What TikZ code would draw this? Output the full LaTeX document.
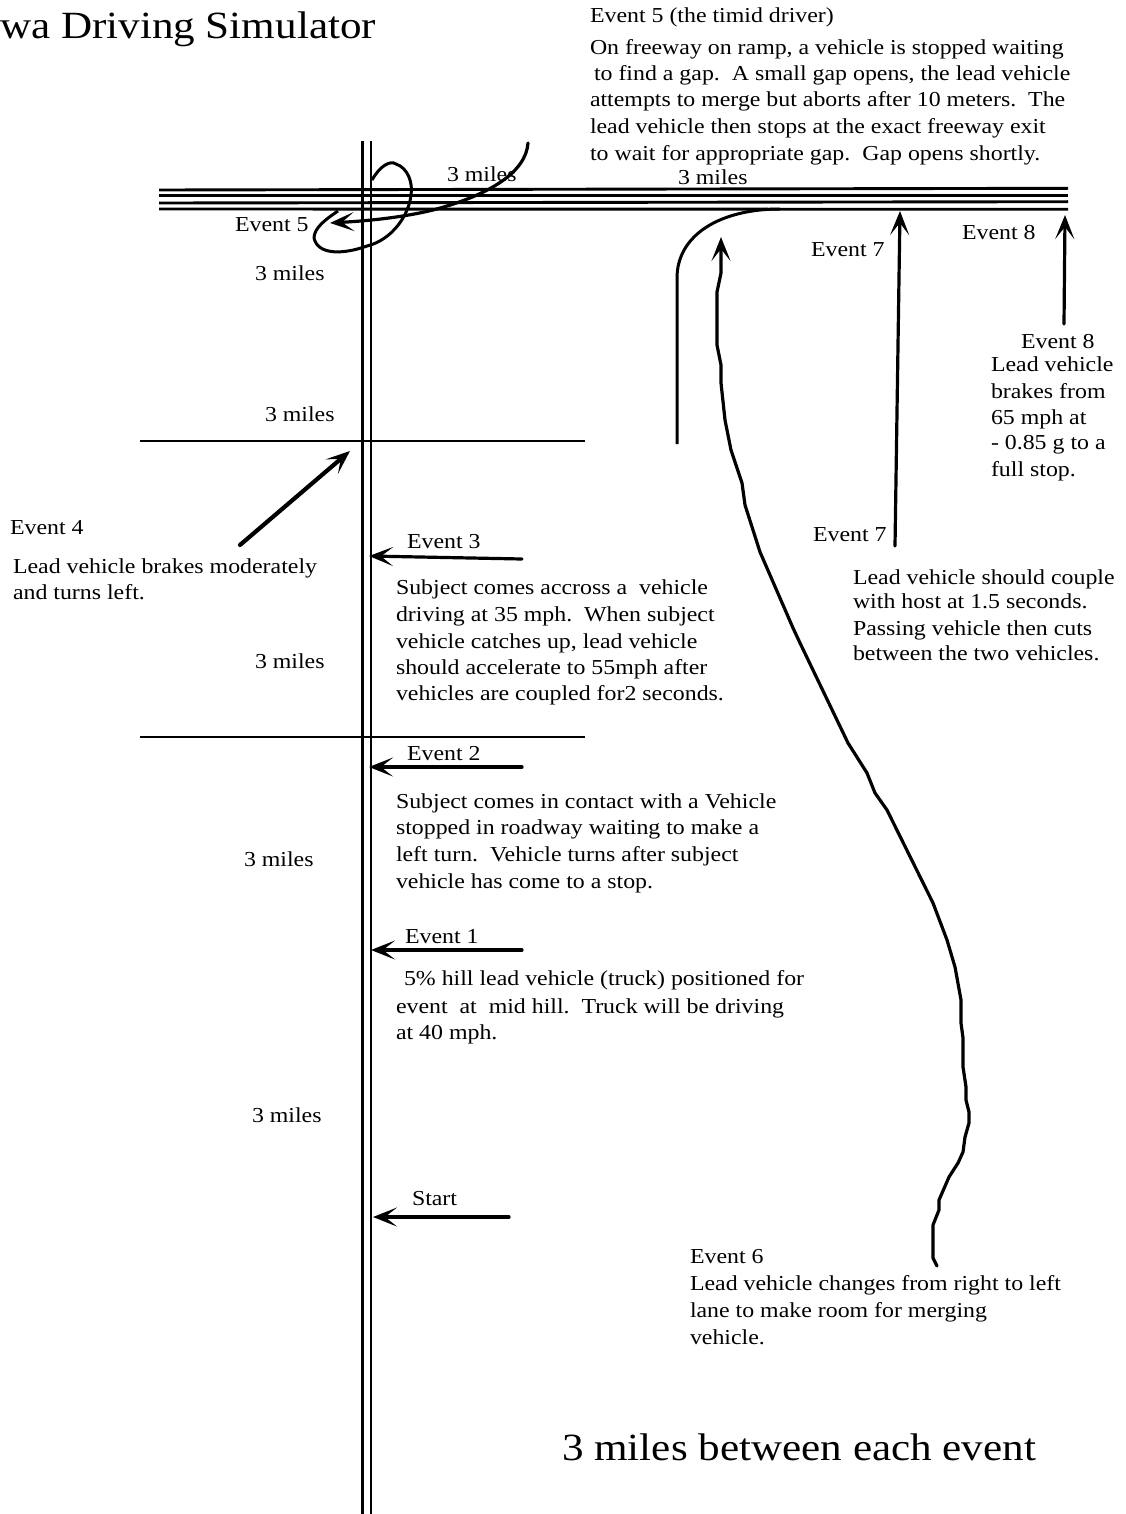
\documentclass[tikz,border=0pt]{standalone}
\usepackage{fontspec}
\setmainfont[FakeStretch=1.12]{Liberation Serif}
\usetikzlibrary{arrows.meta}
\tikzset{
  txt/.style={anchor=base west,inner sep=0pt,outer sep=0pt,font=\fontsize{21.3}{25}\selectfont},
  bigtxt/.style={anchor=base west,inner sep=0pt,outer sep=0pt,font=\fontsize{38.5}{44}\selectfont},
  road/.style={line width=2.9pt,draw=black},
  lead/.style={line width=3.2pt,draw=black,line cap=round,line join=round,-{Stealth[length=24pt,width=19pt,inset=12pt]}},
  curveline/.style={line width=3pt,draw=black,line join=round}
}
\begin{document}
\begin{tikzpicture}[x=1pt,y=-1pt]
\useasboundingbox (0,0) rectangle (1125,1514);
% named ends
\coordinate (vaT) at (362.5,141); \coordinate (vaB) at (362.5,1514);
\coordinate (vbT) at (371,141); \coordinate (vbB) at (371,1514);
\coordinate (h1L) at (159,190); \coordinate (h1R) at (1068,188.3);
\coordinate (h2L) at (159,195.3); \coordinate (h2R) at (1068,195.3);
\coordinate (h3L) at (159,203); \coordinate (h3R) at (1068,201.7);
\coordinate (h4L) at (159,209); \coordinate (h4R) at (1068,209.3);
\coordinate (c1L) at (140,441); \coordinate (c1R) at (585,441);
\coordinate (c2L) at (140,737); \coordinate (c2R) at (585,737);
\draw[road] (vaT)--(vaB); \draw[road] (vbT)--(vbB);
\draw[road] (h1L)--(h1R); \draw[road] (h2L)--(h2R);
\draw[road] (h3L)--(h3R); \draw[road] (h4L)--(h4R);
\draw[road] (c1L)--(c1R); \draw[road] (c2L)--(c2R);
% ramp
\coordinate (rampT) at (780,209); \coordinate (rampM) at (677,278); \coordinate (rampB) at (677,444);
\draw[curveline] (rampT) .. controls (720,209) and (677,235) .. (rampM) -- (rampB);
% event 5 loop
\coordinate (loopA) at (372,180); \coordinate (loopB) at (338,211);
\draw[curveline] (loopA) .. controls (380,166) and (390,160) .. (396,164)
  .. controls (408,168) and (413,183) .. (411,195)
  .. controls (409,215) and (392,240) .. (367,246)
  .. controls (345,254) and (318,256) .. (314,238)
  .. controls (314,228) and (326,219) .. (loopB);
% event 5 merging arrow
\coordinate (e5S) at (528,143); \coordinate (e5T) at (330,223);
\draw[lead] (e5S) .. controls (526,172) and (490,195) .. (433,210)
  .. controls (400,218) and (365,221) .. (e5T);
% event 6 long arrow
\coordinate (e6S) at (937,1266); \coordinate (e6T) at (721,237);
\draw[lead] (e6S) -- (933,1258) -- (933,1225) -- (939,1210) -- (939,1200) -- (949,1177) -- (958,1163) -- (963,1152)
  -- (965,1137) -- (969,1123) -- (969,1112) -- (966,1100) -- (966,1087) -- (963,1067) -- (963,1038) -- (961,1023) -- (961,1000)
  -- (955,967) -- (947,940) -- (933,903) -- (887,810) -- (875,793) -- (867,773) -- (848,743) -- (800,643) -- (793,628)
  -- (760,552) -- (745,505) -- (742,483) -- (731,450) -- (725,420) -- (721,383) -- (721,365) -- (717,345) -- (717,292) -- (721,273) -- (e6T);
% straight arrows
\coordinate (e7S) at (895,546); \coordinate (e7T) at (900,211);
\coordinate (e8S) at (1064,324); \coordinate (e8T) at (1065,215);
\coordinate (e4S) at (240,545); \coordinate (e4T) at (350,451);
\coordinate (e3S) at (522,559); \coordinate (e3T) at (369,556);
\coordinate (e2S) at (522,767); \coordinate (e2T) at (369,767);
\coordinate (e1S) at (522,950); \coordinate (e1T) at (371,950);
\coordinate (stS) at (509,1217); \coordinate (stT) at (373,1217);
\draw[lead] (e7S)--(e7T); \draw[lead] (e8S)--(e8T); \draw[lead,line width=4.2pt] (e4S)--(e4T);
\draw[lead] (e3S)--(e3T); \draw[lead] (e2S)--(e2T); \draw[lead] (e1S)--(e1T);
\draw[lead] (stS)--(stT);
% texts
\node[bigtxt] (title) at (0,39) {wa Driving Simulator};
\node[bigtxt] (bottom) at (562,1460) {3 miles between each event};
\node[txt] (t5h) at (590,23) {Event 5 (the timid driver)};
\node[txt] (t5a) at (590,55) {On freeway on ramp, a vehicle is stopped waiting};
\node[txt] (t5b) at (594,81) {to find a gap.\ \ A small gap opens, the lead vehicle};
\node[txt] (t5c) at (590,107) {attempts to merge but aborts after 10 meters.\ \ The};
\node[txt] (t5d) at (590,134) {lead vehicle then stops at the exact freeway exit};
\node[txt] (t5e) at (590,161) {to wait for appropriate gap.\ \ Gap opens shortly.};
\node[txt] (m1) at (447,182) {3 miles};
\node[txt] (m2) at (678,185) {3 miles};
\node[txt] (l5) at (235,232) {Event 5};
\node[txt] (m3) at (255,280) {3 miles};
\node[txt] (l7a) at (811,256) {Event 7};
\node[txt] (l8a) at (962,240) {Event 8};
\node[txt] (l8b) at (1021,348) {Event 8};
\node[txt] (t8a) at (991,371) {Lead vehicle};
\node[txt] (t8b) at (991,398) {brakes from};
\node[txt] (t8c) at (991,424) {65 mph at};
\node[txt] (t8d) at (991,449) {- 0.85 g to a};
\node[txt] (t8e) at (991,476) {full stop.};
\node[txt] (m4) at (265,421) {3 miles};
\node[txt] (l4) at (10,534) {Event 4};
\node[txt] (t4a) at (13,573) {Lead vehicle brakes moderately};
\node[txt] (t4b) at (13,599) {and turns left.};
\node[txt] (l3) at (407,548) {Event 3};
\node[txt] (t3a) at (396,594) {Subject comes accross a\ \ vehicle};
\node[txt] (t3b) at (396,621) {driving at 35 mph.\ \ When subject};
\node[txt] (t3c) at (396,648) {vehicle catches up, lead vehicle};
\node[txt] (t3d) at (396,674) {should accelerate to 55mph after};
\node[txt] (t3e) at (396,700) {vehicles are coupled for2 seconds.};
\node[txt] (m5) at (255,668) {3 miles};
\node[txt] (l7b) at (813,541) {Event 7};
\node[txt] (t7a) at (853,584) {Lead vehicle should couple};
\node[txt] (t7b) at (853,608) {with host at 1.5 seconds.};
\node[txt] (t7c) at (853,635) {Passing vehicle then cuts};
\node[txt] (t7d) at (853,660) {between the two vehicles.};
\node[txt] (l2) at (407,760) {Event 2};
\node[txt] (t2a) at (396,808) {Subject comes in contact with a Vehicle};
\node[txt] (t2b) at (396,834) {stopped in roadway waiting to make a};
\node[txt] (t2c) at (396,861) {left turn.\ \ Vehicle turns after subject};
\node[txt] (t2d) at (396,888) {vehicle has come to a stop.};
\node[txt] (m6) at (244,866) {3 miles};
\node[txt] (l1) at (405,943) {Event 1};
\node[txt] (t1a) at (404,985) {5\% hill lead vehicle (truck) positioned for};
\node[txt] (t1b) at (396,1013) {event\ \ at\ \ mid hill.\ \ Truck will be driving};
\node[txt] (t1c) at (396,1039) {at 40 mph.};
\node[txt] (m7) at (252,1122) {3 miles};
\node[txt] (ls) at (412,1205) {Start};
\node[txt] (l6) at (690,1263) {Event 6};
\node[txt] (t6a) at (690,1290) {Lead vehicle changes from right to left};
\node[txt] (t6b) at (690,1317) {lane to make room for merging};
\node[txt] (t6c) at (690,1344) {vehicle.};
\end{tikzpicture}
\end{document}
